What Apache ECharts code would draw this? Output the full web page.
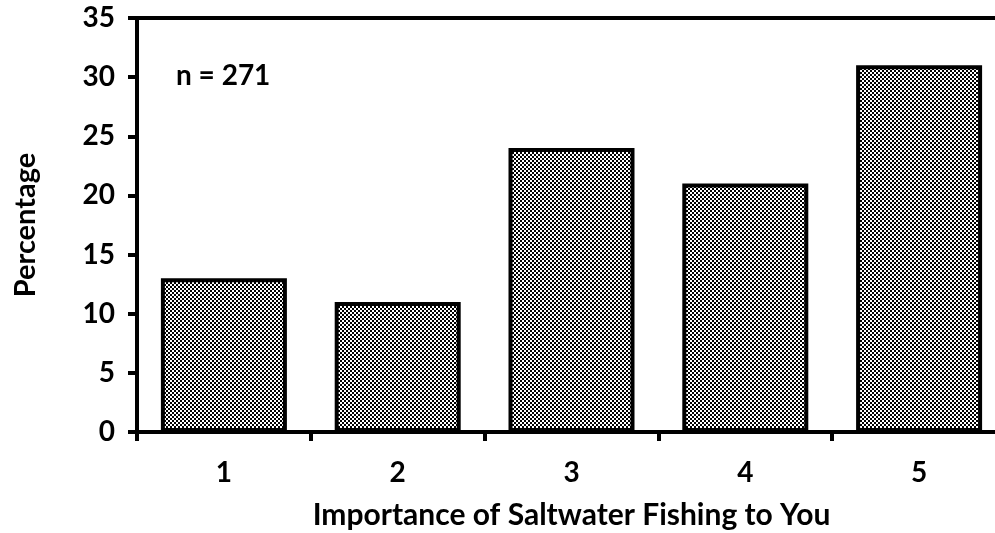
<!DOCTYPE html>
<html>
<head>
<meta charset="utf-8">
<script src="https://cdn.jsdelivr.net/npm/echarts@6/dist/echarts.min.js"></script>
<style>
  html, body { margin: 0; padding: 0; background: #fff; }
  #chart { width: 995px; height: 533px; }
</style>
</head>
<body>
<div id="chart"></div>
<script>
  // importance rating, share of respondents (%)
  var categories = ['1', '2', '3', '4', '5'];
  var percents = [13, 11, 24, 21, 31];
  var yTicks = [0, 5, 10, 15, 20, 25, 30, 35];

  // checkerboard fill like the original stipple
  var tile = document.createElement('canvas');
  tile.width = 4;
  tile.height = 4;
  var ctx = tile.getContext('2d');
  ctx.fillStyle = '#fff';
  ctx.fillRect(0, 0, 4, 4);
  ctx.fillStyle = '#000';
  ctx.fillRect(0, 0, 2, 2);
  ctx.fillRect(2, 2, 2, 2);

  var font = 'Lato, "Open Sans", sans-serif';
  var chart = echarts.init(document.getElementById('chart'));
  var option = {
    animation: false,
    // plot runs past the right edge, like the cropped original
    grid: { left: 137, width: 869, top: 18, bottom: 101, containLabel: false, outerBoundsMode: 'none' },
    xAxis: [{
      type: 'category',
      data: categories,
      axisLine: { lineStyle: { color: '#000', width: 4 } },
      axisTick: { show: true, length: 9, lineStyle: { color: '#000', width: 4 } },
      axisLabel: { color: '#000', fontFamily: font, fontWeight: 'bold', fontSize: 28, margin: 27 },
      name: 'Importance of Saltwater Fishing to You',
      nameLocation: 'middle',
      nameGap: 68,
      nameMoveOverlap: false,
      nameTextStyle: { color: '#000', fontFamily: font, fontWeight: 'bold', fontSize: 30 }
    }, {
      type: 'category',
      position: 'top',
      data: categories,
      axisLine: { lineStyle: { color: '#000', width: 4 } },
      axisTick: { show: false },
      axisLabel: { show: false }
    }],
    yAxis: {
      type: 'value',
      min: 0,
      max: 35,
      interval: 5,
      axisLine: { show: true, lineStyle: { color: '#000', width: 4 } },
      axisTick: { show: true, length: 9, lineStyle: { color: '#000', width: 4 } },
      splitLine: { show: false },
      axisLabel: {
        color: '#000', fontFamily: font, fontWeight: 'bold', fontSize: 28, margin: 22,
        formatter: function (v) { return yTicks.indexOf(v) >= 0 ? String(v) : ''; }
      },
      name: 'Percentage',
      nameLocation: 'middle',
      nameGap: 97,
      nameMoveOverlap: false,
      nameTextStyle: { color: '#000', fontFamily: font, fontWeight: 'bold', fontSize: 29 }
    },
    graphic: [{
      type: 'text',
      left: 176,
      top: 62,
      style: { text: 'n = 271', fill: '#000', font: 'bold 28px ' + font }
    }],
    series: [{
      type: 'bar',
      data: percents,
      barWidth: 126,
      itemStyle: {
        color: { image: tile, repeat: 'repeat' },
        borderColor: '#000',
        borderWidth: 4
      }
    }]
  };
  chart.setOption(option);
</script>
</body>
</html>
